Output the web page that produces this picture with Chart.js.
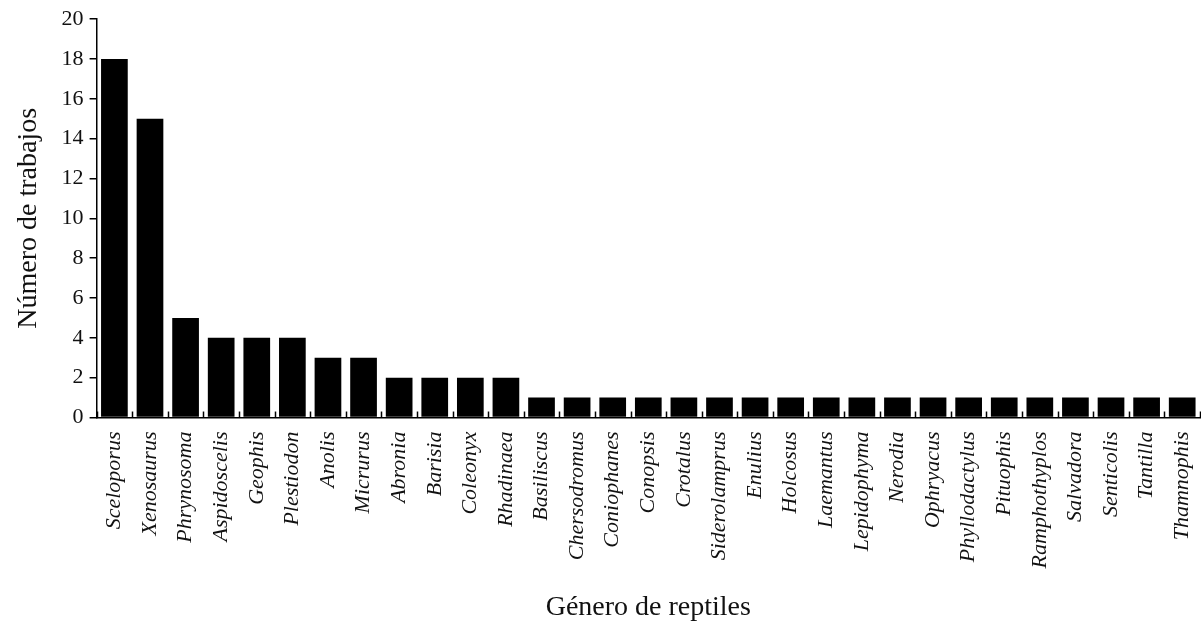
<!DOCTYPE html>
<html>
<head>
<meta charset="utf-8">
<script src="https://cdn.jsdelivr.net/npm/chart.js@4/dist/chart.umd.min.js"></script>
<style>
  body { margin: 0; background: #fff; }
  #wrap { width: 1201px; height: 624px; }
</style>
</head>
<body>
<div id="wrap"><canvas id="bar-chart"></canvas></div>
<script>
const generos = ["Sceloporus", "Xenosaurus", "Phrynosoma", "Aspidoscelis", "Geophis", "Plestiodon",
  "Anolis", "Micrurus", "Abronia", "Barisia", "Coleonyx", "Rhadinaea", "Basiliscus", "Chersodromus",
  "Coniophanes", "Conopsis", "Crotalus", "Siderolamprus", "Enulius", "Holcosus", "Laemantus",
  "Lepidophyma", "Nerodia", "Ophryacus", "Phyllodactylus", "Pituophis", "Ramphothyplos",
  "Salvadora", "Senticolis", "Tantilla", "Thamnophis"];
const trabajos = [18, 15, 5, 4, 4, 4, 3, 3, 2, 2, 2, 2, 1, 1, 1, 1, 1, 1, 1, 1, 1, 1, 1, 1, 1, 1, 1, 1, 1, 1, 1];
const yTicks = [0, 2, 4, 6, 8, 10, 12, 14, 16, 18, 20];

// short tick marks between categories, pointing up from the x axis
const innerTicks = {
  id: 'innerTicks',
  afterDatasetsDraw(chart) {
    const x = chart.scales.x, ctx = chart.ctx, bottom = chart.chartArea.bottom;
    ctx.save();
    ctx.strokeStyle = '#000';
    ctx.lineWidth = 1.5;
    for (let i = 0; i <= generos.length; i++) {
      const px = Math.round(x.getPixelForValue(i - 0.5)) + 0.5;
      ctx.beginPath();
      ctx.moveTo(px, bottom);
      ctx.lineTo(px, bottom - 6);
      ctx.stroke();
    }
    ctx.restore();
  }
};

new Chart(document.getElementById("bar-chart"), {
  type: 'bar',
  data: {
    labels: generos,
    datasets: [{
      data: trabajos,
      backgroundColor: '#000',
      barPercentage: 0.75,
      categoryPercentage: 1.0
    }]
  },
  options: {
    responsive: true,
    maintainAspectRatio: false,
    animation: false,
    layout: { padding: { top: 9, right: 1, left: 12, bottom: 0 } },
    plugins: { legend: { display: false }, tooltip: { enabled: false } },
    scales: {
      x: {
        afterFit(scale) { scale.paddingRight = 0; scale.paddingLeft = 0; },
        grid: { display: false },
        border: { display: true, color: '#000', width: 1.5 },
        ticks: {
          color: '#111',
          minRotation: 90, maxRotation: 90,
          autoSkip: false,
          padding: 6,
          font: { family: 'Liberation Serif', size: 22, style: 'italic' }
        },
        title: {
          display: true,
          text: 'Género de reptiles',
          color: '#111',
          padding: { top: 16, bottom: 0 },
          font: { family: 'Liberation Serif', size: 28 }
        }
      },
      y: {
        min: 0, max: 20,
        afterBuildTicks(scale) { scale.ticks = yTicks.map(v => ({ value: v })); },
        grid: { drawOnChartArea: false, drawTicks: true, tickLength: 7, color: '#000', lineWidth: 1.5 },
        border: { display: true, color: '#000', width: 1.5 },
        ticks: {
          color: '#111',
          padding: 6,
          font: { family: 'Liberation Serif', size: 22 }
        },
        title: {
          display: true,
          text: 'Número de trabajos',
          color: '#111',
          padding: { top: 0, bottom: 10 },
          font: { family: 'Liberation Serif', size: 28 }
        }
      }
    }
  },
  plugins: [innerTicks]
});
</script>
</body>
</html>
